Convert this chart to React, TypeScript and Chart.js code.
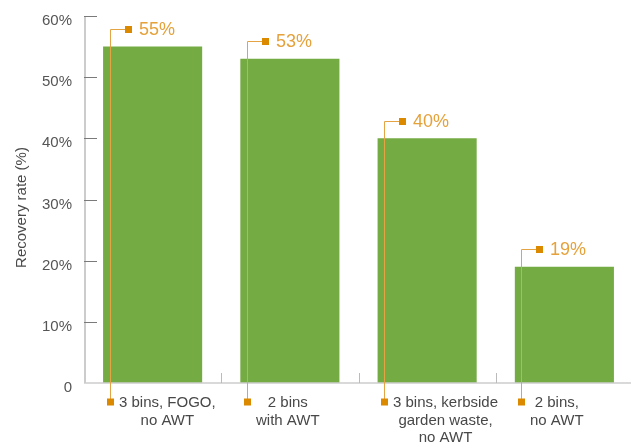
import React, { useEffect, useRef } from "react";
import { Chart, registerables } from "chart.js";

Chart.register(...registerables);

const categories: string[][] = [
  ["3 bins, FOGO,", "no AWT"],
  ["2 bins", "with AWT"],
  ["3 bins, kerbside", "garden waste,", "no AWT"],
  ["2 bins,", "no AWT"],
];
const recoveryRates = [55, 53, 40, 19];
const yTickValues = [0, 10, 20, 30, 40, 50, 60];
const yTitle = "Recovery rate (%)";

const GREEN = "#75AB43";
const ORANGE_DARK = "#DB8A00";
const ORANGE_LINE = "#E5A443";
const ORANGE_TEXT = "#E5A13A";
const FONT = "'Liberation Sans', Arial, sans-serif";

const decorPlugin = {
  id: "decor",
  afterDraw(chart: any) {
    const { ctx, chartArea, scales } = chart;
    const y = scales.y;
    const x = scales.x;
    const { left, right, top, bottom } = chartArea;
    ctx.save();

    // y axis line
    ctx.strokeStyle = "#cccccc";
    ctx.lineWidth = 2;
    ctx.beginPath();
    ctx.moveTo(left + 1, top);
    ctx.lineTo(left + 1, bottom);
    ctx.stroke();

    // inside y ticks
    ctx.strokeStyle = "#7a7a7a";
    ctx.lineWidth = 1;
    yTickValues.forEach((v) => {
      if (v === 0) return;
      const py = Math.round(y.getPixelForValue(v)) + 0.5;
      ctx.beginPath();
      ctx.moveTo(left, py);
      ctx.lineTo(left + 13, py);
      ctx.stroke();
    });

    // x axis line
    ctx.strokeStyle = "#cccccc";
    ctx.lineWidth = 1.5;
    ctx.beginPath();
    ctx.moveTo(left, bottom);
    ctx.lineTo(right, bottom);
    ctx.stroke();

    // category separators
    ctx.strokeStyle = "#bbbbbb";
    ctx.lineWidth = 1;
    for (let i = 0; i < categories.length - 1; i++) {
      const px = Math.round((x.getPixelForValue(i) + x.getPixelForValue(i + 1)) / 2) + 0.5;
      ctx.beginPath();
      ctx.moveTo(px, bottom - 10);
      ctx.lineTo(px, bottom);
      ctx.stroke();
    }

    // y title
    ctx.save();
    ctx.translate(22, (top + bottom) / 2 + 8);
    ctx.rotate(-Math.PI / 2);
    ctx.fillStyle = "#4a4a4a";
    ctx.font = `15px ${FONT}`;
    ctx.textAlign = "center";
    ctx.textBaseline = "middle";
    ctx.fillText(yTitle, 0, 0);
    ctx.restore();

    // callouts
    const meta = chart.getDatasetMeta(0);
    meta.data.forEach((bar: any, i: number) => {
      const barLeft = bar.x - bar.width / 2;
      const lineX = Math.round(barLeft + 6.5) + 0.5;
      const topY = Math.round(bar.y - 17.5) + 0.5;
      const botY = bottom + 19;

      ctx.strokeStyle = ORANGE_LINE;
      ctx.lineWidth = 1;
      ctx.beginPath();
      ctx.moveTo(lineX, botY);
      ctx.lineTo(lineX, topY);
      ctx.lineTo(lineX + 15, topY);
      ctx.stroke();

      ctx.fillStyle = ORANGE_DARK;
      ctx.fillRect(lineX + 14.5, topY - 3.5, 7, 7);
      ctx.fillRect(lineX - 3.5, botY - 3.5, 7, 7);

      ctx.fillStyle = ORANGE_TEXT;
      ctx.font = `18px ${FONT}`;
      ctx.textAlign = "left";
      ctx.textBaseline = "middle";
      ctx.fillText(recoveryRates[i] + "%", lineX + 28.5, topY + 1);

      const lines = categories[i];
      ctx.font = `15px ${FONT}`;
      ctx.fillStyle = "#484848";
      ctx.textAlign = "center";
      const widths = lines.map((l) => ctx.measureText(l).width);
      const blockW = Math.max(...widths);
      const blockLeft = lineX + 3.5 + 5;
      lines.forEach((l, j) => {
        ctx.fillText(l, blockLeft + blockW / 2, botY + 1 + j * 17.5);
      });
    });

    ctx.restore();
  },
};

export default function App() {
  const ref = useRef<HTMLCanvasElement | null>(null);
  useEffect(() => {
    if (!ref.current) return;
    const chart = new Chart(ref.current, {
      type: "bar",
      data: {
        labels: categories.map((c) => c.join(" ")),
        datasets: [
          {
            data: recoveryRates,
            backgroundColor: GREEN,
            borderWidth: 0,
            barPercentage: 0.722,
            categoryPercentage: 1,
          },
        ],
      },
      options: {
        responsive: false,
        animation: false,
        layout: { padding: { top: 16, left: 0, right: 0, bottom: 0 } },
        plugins: { legend: { display: false }, tooltip: { enabled: false } },
        scales: {
          x: {
            grid: { display: false, drawTicks: false },
            border: { display: false },
            ticks: { display: false },
            afterFit: (s: any) => {
              s.height = 63;
              s.paddingLeft = 0;
              s.paddingRight = 0;
            },
          },
          y: {
            min: 0,
            max: 60,
            grid: { display: false, drawTicks: false },
            border: { display: false },
            afterFit: (s: any) => {
              s.width = 84;
              s.paddingTop = 0;
              s.paddingBottom = 0;
            },
            afterBuildTicks: (s: any) => {
              s.ticks = yTickValues.map((v) => ({ value: v }));
            },
            ticks: {
              padding: 12,
              labelOffset: 5,
              color: "#555555",
              font: { family: FONT, size: 15 },
              callback: (v: any) => (Number(v) === 0 ? "0" : v + "%"),
            },
          },
        },
      },
      plugins: [decorPlugin],
    });
    return () => chart.destroy();
  }, []);
  return (
    <div style={{ position: "absolute", left: 0, top: 0, width: 631, height: 446, overflow: "hidden", background: "#fff" }}>
      <canvas ref={ref} width={633} height={446} style={{ display: "block", width: 633, height: 446 }} />
    </div>
  );
}
